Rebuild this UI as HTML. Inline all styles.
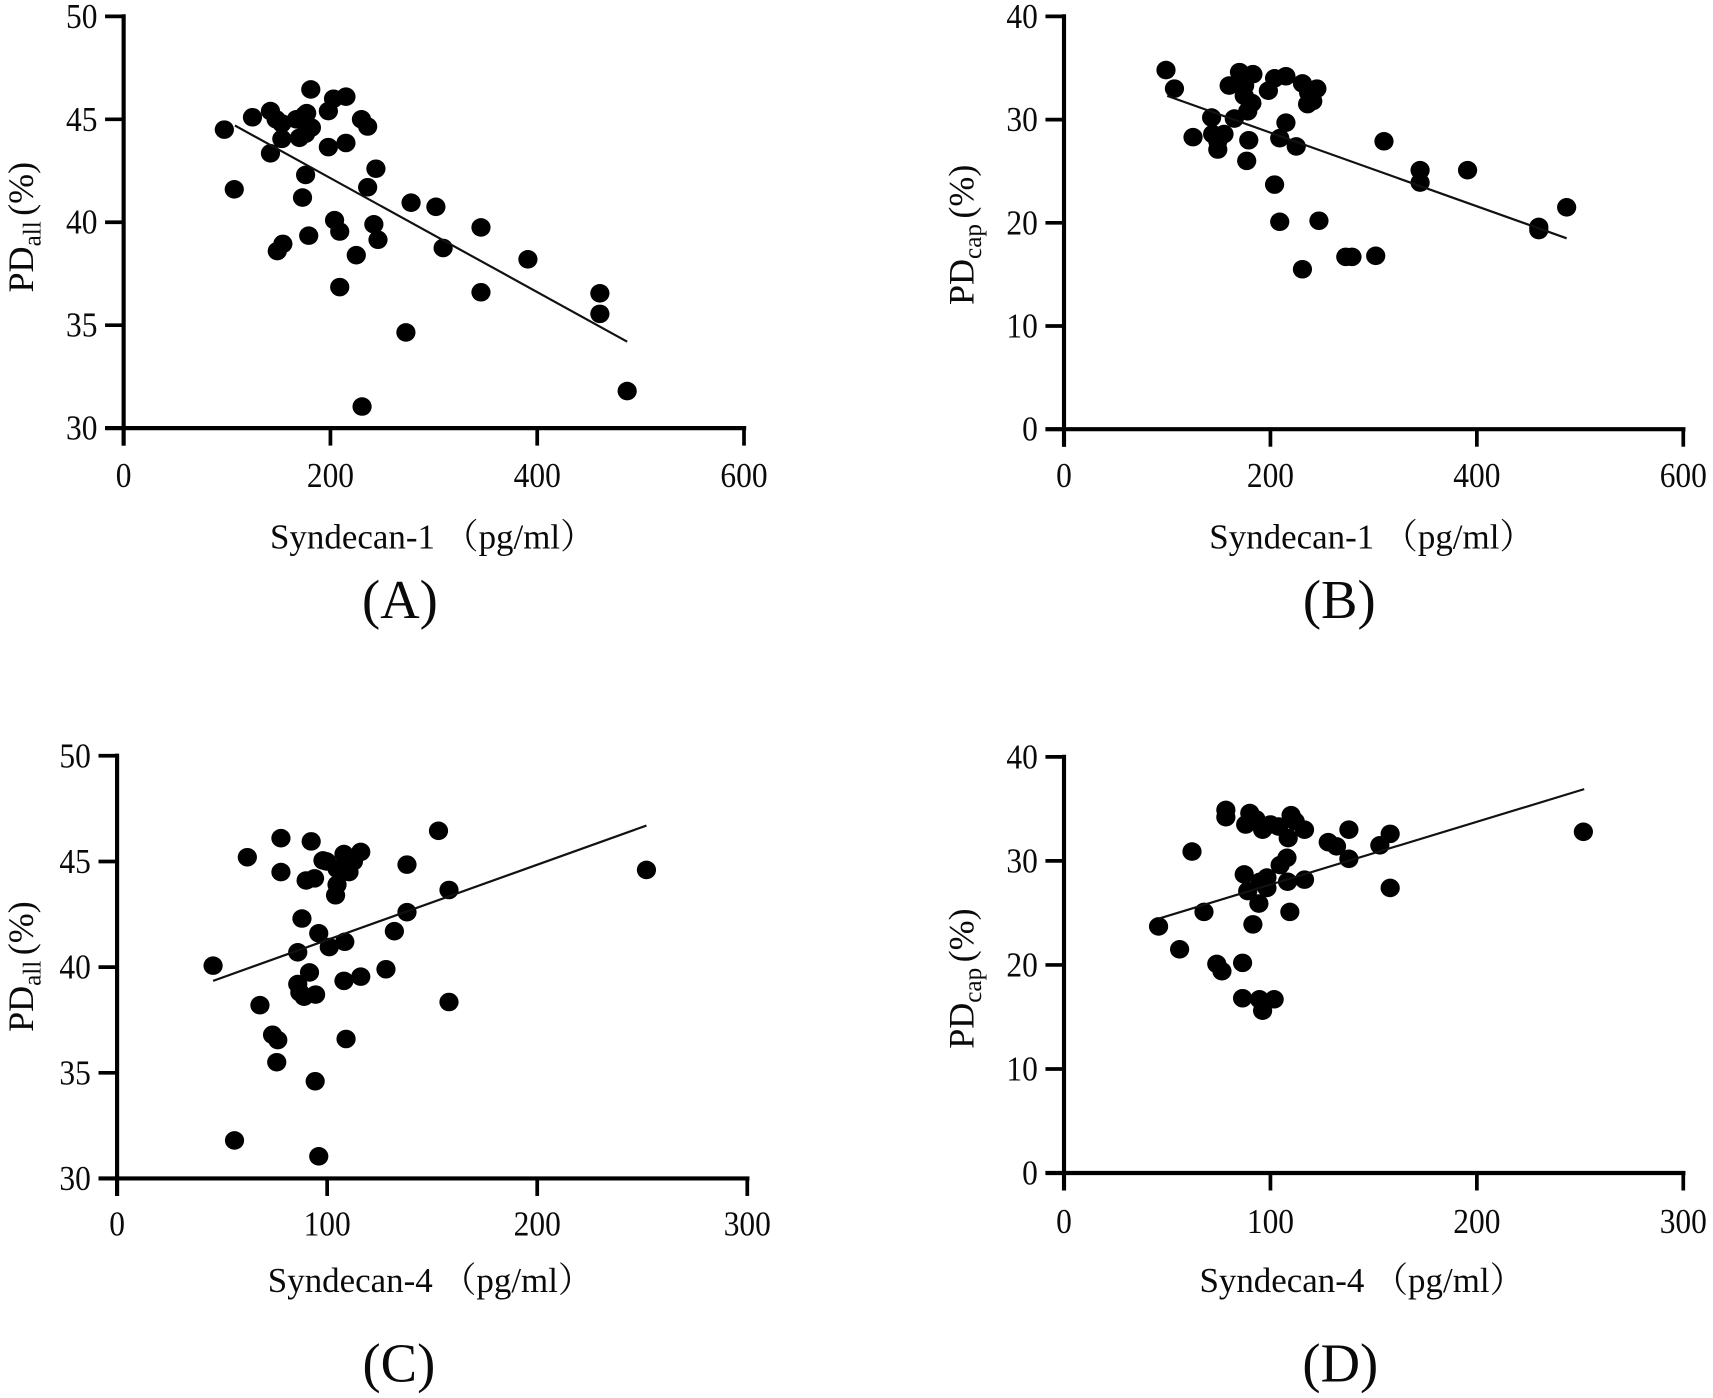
<!DOCTYPE html>
<html lang="en">
<head>
<meta charset="utf-8">
<title>Syndecan vs perfused density scatter plots</title>
<style>
html,body{margin:0;padding:0;background:#fff;width:1713px;height:1398px;overflow:hidden}
svg{display:block}
text{font-family:"Liberation Serif","Noto Serif CJK SC",serif;fill:#0a0a0a}
</style>
</head>
<body>
<svg id="figure" xmlns="http://www.w3.org/2000/svg" width="1713" height="1398" viewBox="0 0 1568 1280">
<rect x="0" y="0" width="1568" height="1280" fill="#fff"/>
</svg>
<script>
// Panel A: Syndecan-1 vs PDall
const aXValues = [97.4,107,124.6,142,147.5,153,153,142,148.6,154,167,175,177,170,176,181.6,181,176,173,179,198,203,215,198,215,230,236,244,236,204,209,242,246,225,209,278,302,309,345.6,345.6,391,460.6,460.6,273,230.6,487];
const aYValues = [44.5,41.6,45.1,45.4,45,44.8,44.05,43.35,38.6,38.95,45,45.2,45.3,44.1,44.3,44.6,46.45,42.3,41.2,39.35,45.4,46,46.1,43.65,43.85,45,44.65,42.6,41.7,40.1,39.55,39.9,39.15,38.4,36.85,40.95,40.75,38.75,39.75,36.6,38.2,36.55,35.55,34.65,31.05,31.8];
const aLineX = [107.6,487];
const aLineY = [44.7,34.2];
const aXTicks = [0,200,400,600];
const aYTicks = [30,35,40,45,50];

// Panel B: Syndecan-1 vs PDcap
const bXValues = [98.8,107,125,143,144,149,149,155,160,165,170,175,174.6,178,182,183,179,177,198,204,215,215,209,225,204,209,231,237,245,241,236,247,231,273,279,302,310,345,345,391,460,460,487];
const bYValues = [34.8,33,28.3,30.2,28.6,27.9,27.1,28.6,33.3,30.1,34.6,33.3,32.3,30.8,31.6,34.4,28,26,32.8,34,34.2,29.7,28.2,27.4,23.7,20.1,33.5,32.6,33,31.8,31.5,20.2,15.5,16.7,16.7,16.8,27.9,25.1,23.9,25.1,19.6,19.3,21.5];
const bLineX = [100,487];
const bLineY = [32.3,18.5];
const bXTicks = [0,200,400,600];
const bYTicks = [0,10,20,30,40];

// Panel C: Syndecan-4 vs PDall
const cXValues = [45.7,55.9,62,68,74,76.5,76,78,78,86,88,86,87,89,91.6,90,92.4,94,94.5,94.3,96,96,98,99.7,101,104,104.7,104.7,108,108.4,108,109,110.4,112.5,116,116,128,132,138,138,153,158,158,252];
const cYValues = [40.07,31.8,45.2,38.2,36.8,36.55,35.5,46.1,44.5,40.7,42.3,39.2,38.8,38.6,39.75,44.1,45.95,44.2,38.7,34.6,41.6,31.05,45.05,45,40.95,43.4,43.9,44.65,45.35,41.2,39.35,36.6,44.5,45,45.45,39.55,39.9,41.7,44.85,42.6,46.45,43.65,38.35,44.6];
const cLineX = [45.7,252];
const cLineY = [39.35,46.7];
const cXTicks = [0,100,200,300];
const cYTicks = [30,35,40,45,50];

// Panel D: Syndecan-4 vs PDcap
const dXValues = [45.8,56,62,67.8,74,76.5,78.4,78.4,86.5,86.5,87.3,88,90,89,91.5,94.4,93,94.7,96.2,96.2,95,98.3,98.3,100,101.8,104,104.7,108,108.6,108.3,110,109.4,112,116.5,116.5,128,132,138,138,153,158,158,251.6];
const dYValues = [23.7,21.5,30.9,25.1,20.1,19.4,34.9,34.2,16.8,20.2,28.7,33.5,34.6,27.1,23.9,25.9,34,16.7,15.6,33,28,27.4,28.4,33.5,16.7,33.3,29.6,30.3,32.2,28,34.4,25.1,33.8,33,28.2,31.8,31.4,30.2,33,31.5,32.6,27.4,32.8];
const dLineX = [45.8,252];
const dLineY = [24.45,36.9];
const dXTicks = [0,100,200,300];
const dYTicks = [0,10,20,30,40];

const NS = 'http://www.w3.org/2000/svg';
const figure = document.getElementById('figure');

function make(parent, tag, attrs) {
  const el = document.createElementNS(NS, tag);
  for (const k in attrs) el.setAttribute(k, attrs[k]);
  parent.appendChild(el);
  return el;
}

function drawPanel(p) {
  const g = make(figure, 'g', {});
  
  

  const xMin = p.xTicks[0], xMax = p.xTicks[p.xTicks.length - 1];
  const yMin = p.yTicks[0], yMax = p.yTicks[p.yTicks.length - 1];
  const sx = v => p.left + (v - xMin) / (xMax - xMin) * (p.right - p.left);
  const sy = v => p.bottom - (v - yMin) / (yMax - yMin) * (p.bottom - p.top);

  // y axis
  const yAxis = make(g, 'line', {x1: p.left, x2: p.left, y1: p.top - 2, y2: p.bottom + 16, stroke: '#000', 'stroke-width': 3.8});
  
  
  // x axis
  const xAxis = make(g, 'line', {x1: p.left - 17, x2: p.right + 2, y1: p.bottom, y2: p.bottom, stroke: '#000', 'stroke-width': 3.8});
  
  

  p.yTicks.forEach(v => {
    const t = make(g, 'line', {x1: p.left - 17, x2: p.left, y1: sy(v), y2: sy(v), stroke: '#000', 'stroke-width': 3.4});
    
    
    const l = make(g, 'text', {'text-anchor': 'end', 'font-size': 32, transform: 'translate(' + (p.left - 24) + ',' + (sy(v) + 10.5) + ') scale(.9,1)'});
    l.textContent = v;
    
    
  });

  p.xTicks.forEach(v => {
    const t = make(g, 'line', {x1: sx(v), x2: sx(v), y1: p.bottom, y2: p.bottom + 16, stroke: '#000', 'stroke-width': 3.4});
    
    
    const l = make(g, 'text', {'text-anchor': 'middle', 'font-size': 32, transform: 'translate(' + sx(v) + ',' + (p.bottom + p.xTickGap) + ') scale(.9,1)'});
    l.textContent = v;
    
    
  });

  // points
  p.xs.forEach((v, i) => {
    const d = make(g, 'ellipse', {cx: sx(v), cy: sy(p.ys[i]), rx: 8.8, ry: 8.5, fill: '#000'});
    
    
  });

  // regression line
  const reg = make(g, 'line', {x1: sx(p.lineX[0]), y1: sy(p.lineY[0]), x2: sx(p.lineX[1]), y2: sy(p.lineY[1]), stroke: '#111', 'stroke-width': 2});
  
  

  // x title
  const xt = make(g, 'text', {x: p.xTitleX, y: p.xTitleY, 'font-size': 32});
  xt.textContent = p.xTitle;
  
  

  // y title
  const yt = make(g, 'text', {'text-anchor': 'middle', 'font-size': 33, transform: 'translate(' + p.yTitleX + ',' + p.yTitleY + ') rotate(-90)'});
  
  
  const s1 = make(yt, 'tspan', {});
  s1.textContent = 'PD';
  const s2 = make(yt, 'tspan', {dy: 7, 'font-size': 23});
  s2.textContent = p.ySub;
  const s3 = make(yt, 'tspan', {dy: -7, dx: 5});
  s3.textContent = '(%)';

  // panel letter
  const pl = make(g, 'text', {x: p.letterX, y: p.letterY, 'text-anchor': 'middle', 'font-size': 50});
  pl.textContent = '(' + p.id + ')';
  
  
}

drawPanel({id:'A', left:113, right:681, top:15, bottom:392, xs:aXValues, ys:aYValues, lineX:aLineX, lineY:aLineY, xTicks:aXTicks, yTicks:aYTicks, xTitle:'Syndecan-1 （pg/ml）', xTitleX:247, xTitleY:502, xTickGap:54, ySub:'all', yTitleX:30, yTitleY:208, letterX:366, letterY:566});
drawPanel({id:'B', left:974, right:1541, top:15, bottom:393, xs:bXValues, ys:bYValues, lineX:bLineX, lineY:bLineY, xTicks:bXTicks, yTicks:bYTicks, xTitle:'Syndecan-1 （pg/ml）', xTitleX:1107, xTitleY:502, xTickGap:53, ySub:'cap', yTitleX:891, yTitleY:215, letterX:1226, letterY:566});
drawPanel({id:'C', left:107, right:684, top:692, bottom:1079, xs:cXValues, ys:cYValues, lineX:cLineX, lineY:cLineY, xTicks:cXTicks, yTicks:cYTicks, xTitle:'Syndecan-4 （pg/ml）', xTitleX:245, xTitleY:1183, xTickGap:52, ySub:'all', yTitleX:30, yTitleY:885, letterX:365, letterY:1265});
drawPanel({id:'D', left:974, right:1541, top:693, bottom:1074, xs:dXValues, ys:dYValues, lineX:dLineX, lineY:dLineY, xTicks:dXTicks, yTicks:dYTicks, xTitle:'Syndecan-4 （pg/ml）', xTitleX:1098, xTitleY:1183, xTickGap:55, ySub:'cap', yTitleX:891, yTitleY:896, letterX:1227, letterY:1265});
</script>
</body>
</html>
